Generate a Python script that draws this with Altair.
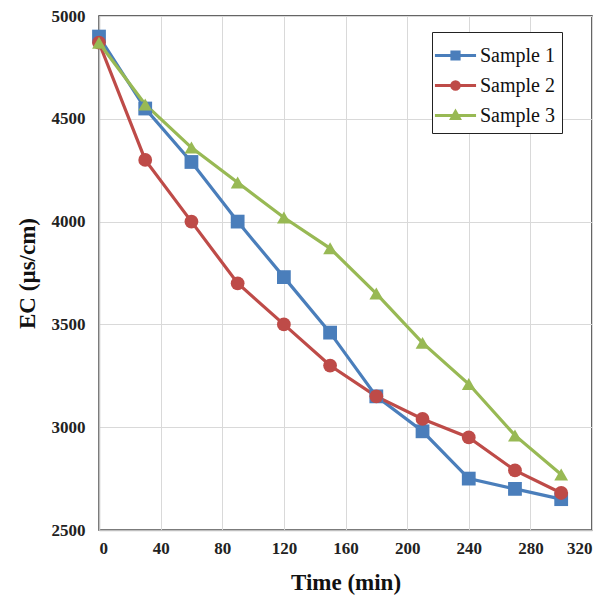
import altair as alt
import pandas as pd

time_min = [0, 30, 60, 90, 120, 150, 180, 210, 240, 270, 300]
sample1 = [4900, 4550, 4290, 4000, 3730, 3460, 3150, 2980, 2750, 2700, 2650]
sample2 = [4870, 4300, 4000, 3700, 3500, 3300, 3150, 3040, 2950, 2790, 2680]
sample3 = [4870, 4570, 4360, 4190, 4020, 3870, 3650, 3410, 3210, 2960, 2770]
series_names = ["Sample 1", "Sample 2", "Sample 3"]
colors = ["#4A7EBB", "#BE4B48", "#98B954"]
shapes = ["square", "circle", "triangle-up"]
legend_paths = [
    "M-1.37,0H1.37M-0.24,-0.24H0.24V0.24H-0.24Z",
    "M-1.37,0H1.37M0.25,0A0.25,0.25 0 1,1 -0.25,0A0.25,0.25 0 1,1 0.25,0Z",
    "M-1.37,0H1.37M-0.26,0.2L0,-0.26L0.26,0.2Z",
]

rows = []
for name, vals in zip(series_names, [sample1, sample2, sample3]):
    for t, v in zip(time_min, vals):
        rows.append({"Time": t, "EC": v, "Series": name})
df = pd.DataFrame(rows)

FONT = "Liberation Serif"
FONT_STACK = "'Liberation Serif', 'Times New Roman', serif"

legend_def = alt.Legend(
    title=None, labelFont=FONT_STACK, labelFontSize=20, labelColor="#111111",
    labelFontWeight="normal",
    symbolSize=900, symbolStrokeWidth=3, rowPadding=3, labelOffset=8,
    orient="none", legendX=333, legendY=16,
    strokeColor="#222222", fillColor="white", padding=7,
)
color_scale = alt.Scale(domain=series_names, range=colors)
shape_scale = alt.Scale(domain=series_names, range=legend_paths)
x_enc = alt.X("Time:Q", scale=alt.Scale(domain=[0, 320], nice=False),
              axis=alt.Axis(values=list(range(0, 321, 40)), title="Time (min)"))
y_enc = alt.Y("EC:Q", scale=alt.Scale(domain=[2500, 5000], nice=False),
              axis=alt.Axis(values=list(range(2500, 5001, 500)), format="d", title="EC (µs/cm)"))

col = alt.Color("Series:N", scale=color_scale, legend=legend_def)

base = alt.Chart(df)
lines = base.mark_line(strokeWidth=3.2).encode(
    x=x_enc, y=y_enc, color=col, detail="Series:N",
)
point_layers = []
for name, shp in zip(series_names, shapes):
    point_layers.append(
        base.transform_filter(alt.datum.Series == name).mark_point(
            filled=True, shape=shp, size=190, opacity=1
        ).encode(x="Time:Q", y="EC:Q", color=col)
    )

# invisible legend carrier: real data, zero-size marks
legend_layer = base.mark_point(filled=True, size=0, opacity=1).encode(
    x="Time:Q", y="EC:Q", color=col,
    shape=alt.Shape("Series:N", scale=shape_scale, legend=legend_def),
)

chart = alt.layer(lines, *point_layers, legend_layer).properties(
    width=493, height=514,
    autosize=alt.AutoSizeParams(type="none"),
    padding={"left": 91, "top": 8, "right": 14, "bottom": 70},
).configure(
    font=FONT,
).configure_view(
    stroke="#333333", strokeWidth=1.5,
).configure_axis(
    labelFont=FONT, labelFontSize=17, labelFontWeight="bold", labelColor="#222222",
    titleFont=FONT, titleFontSize=23, titleFontWeight="bold", titleColor="#111111",
    gridColor="#d9d9d9", gridWidth=1, domainColor="#bfbfbf", domainWidth=1.5,
    ticks=False,
).configure_axisX(
    labelPadding=10, titlePadding=15,
).configure_axisY(
    labelPadding=14, titlePadding=12,
).configure_legend(
    labelFont=FONT_STACK, cornerRadius=0,
)

chart.save("out.html", embed_options={"renderer": "svg", "actions": False})
